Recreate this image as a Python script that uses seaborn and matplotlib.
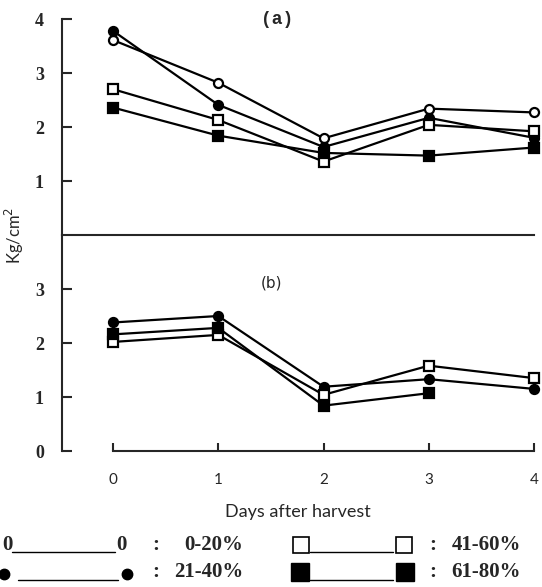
import numpy as np
import pandas as pd
import matplotlib
matplotlib.use("Agg")
import matplotlib.pyplot as plt
import seaborn as sns

sns.set_style("ticks")
plt.rcParams['font.family'] = ['DejaVu Sans']

days = [0, 1, 2, 3, 4]
groups = ["0-20%", "21-40%", "41-60%", "61-80%"]

# Panel (a)
a_0_20 = [3.61, 2.82, 1.79, 2.34, 2.27]
a_21_40 = [3.78, 2.41, 1.63, 2.17, 1.80]
a_41_60 = [2.70, 2.13, 1.36, 2.04, 1.92]
a_61_80 = [2.36, 1.84, 1.52, 1.47, 1.62]

# Panel (b)
b_21_40 = [2.38, 2.50, 1.19, 1.33, 1.15]
b_41_60 = [2.02, 2.15, 1.04, 1.58, 1.35]
b_61_80 = [2.16, 2.28, 0.84, 1.07, np.nan]

yticks_a = [1, 2, 3, 4]
yticks_b = [0, 1, 2, 3]
xtick_labels = ["0", "1", "2", "3", "4"]

rows = []
for panel, series in [("a", {"0-20%": a_0_20, "21-40%": a_21_40, "41-60%": a_41_60, "61-80%": a_61_80}),
                      ("b", {"21-40%": b_21_40, "41-60%": b_41_60, "61-80%": b_61_80})]:
    for g, vals in series.items():
        for d, v in zip(days, vals):
            if not np.isnan(v):
                rows.append({"panel": panel, "group": g, "day": d, "value": v})
df = pd.DataFrame(rows)

styles = {
    "0-20%": dict(marker="o", markerfacecolor="white", markersize=6.5),
    "21-40%": dict(marker="o", markerfacecolor="black", markersize=6.5),
    "41-60%": dict(marker="s", markerfacecolor="white", markersize=6.5),
    "61-80%": dict(marker="s", markerfacecolor="black", markersize=6.5),
}

W, H = 542, 587
fig = plt.figure(figsize=(W / 100, H / 100), dpi=100)
left = 62 / W
width = (534 - 62) / W
ax_a = fig.add_axes([left, 1 - 235 / H, width, 216 / H])
ax_b = fig.add_axes([left, 1 - 451 / H, width, 216 / H])

for ax, panel in [(ax_a, "a"), (ax_b, "b")]:
    sub = df[df.panel == panel]
    for g in groups:
        d = sub[sub.group == g]
        if d.empty:
            continue
        sns.lineplot(data=d, x="day", y="value", ax=ax, color="black", linewidth=1.6,
                     markeredgecolor="black", markeredgewidth=1.6, clip_on=False,
                     legend=False, **styles[g])
    ax.set_xlim(-0.485, 4.0)
    ax.set_ylim(0, 4)
    ax.set_xlabel("")
    ax.set_ylabel("")
    ax.patch.set_alpha(0)
    for s in ["top", "right"]:
        ax.spines[s].set_visible(False)
    for s in ["left", "bottom"]:
        ax.spines[s].set_linewidth(1.5)
    ax.tick_params(axis="y", direction="in", length=7, width=1.5, pad=13)

ax_a.set_yticks(yticks_a)
ax_a.set_yticklabels([str(t) for t in yticks_a], fontfamily="Liberation Serif",
                     fontweight="bold", fontsize=13)
ax_a.set_xticks([])
ax_a.spines["left"].set_bounds(0, 4)

ax_b.set_yticks(yticks_b)
ax_b.set_yticklabels([str(t) for t in yticks_b], fontfamily="Liberation Serif",
                     fontweight="bold", fontsize=13)
ax_b.set_xticks(days)
ax_b.set_xticklabels(xtick_labels, fontsize=11, fontfamily="Lato")
ax_b.tick_params(axis="x", direction="in", length=6, width=1.5, pad=16)
ax_b.spines["bottom"].set_bounds(0, 4)

ax_a.text(1.56, 4.0, "(a)", fontfamily="Liberation Mono", fontweight="bold",
          fontsize=13, ha="center", va="center")
ax_b.text(1.51, 3.11, "(b)", fontfamily="DejaVu Sans", fontsize=11,
          ha="center", va="center")

ax_b.set_xlabel("Days after harvest", fontfamily="Lato", fontsize=13, labelpad=12)
fig.text(14 / W, 1 - 235 / H, "Kg/cm$^2$", rotation=90, ha="center", va="center",
         fontfamily="Lato", fontsize=12)

# Custom legend drawn in pixel space
lg = fig.add_axes([0, 0, 1, 1])
lg.set_xlim(0, W)
lg.set_ylim(H, 0)
lg.axis("off")
lg.patch.set_alpha(0)
tkw = dict(fontfamily="Liberation Serif", fontweight="bold", fontsize=15, va="center")
r1, r2 = 545, 572
b1, b2 = 552, 580
# row 1 left: 0____0 : 0-20%
lg.text(7, r1, "0", ha="center", **tkw)
lg.plot([12, 115], [b1, b1], color="black", lw=1.0)
lg.text(121, r1, "0", ha="center", **tkw)
lg.text(156, r1, ":", ha="center", **tkw)
lg.text(243, r1, "0-20%", ha="right", **tkw)
# row 2 left: filled circles
lg.plot([4], [b2 - 6], marker="o", color="black", markersize=7.5, clip_on=False)
lg.plot([18, 118], [b2, b2], color="black", lw=1.0)
lg.plot([127], [b2 - 6], marker="o", color="black", markersize=7.5)
lg.text(156, r2, ":", ha="center", **tkw)
lg.text(243, r2, "21-40%", ha="right", **tkw)
# row 1 right: open squares
lg.plot([301], [r1], marker="s", markerfacecolor="white", markeredgecolor="black",
        markersize=12, markeredgewidth=1.2)
lg.plot([310, 393], [b1, b1], color="black", lw=1.0)
lg.plot([404], [r1], marker="s", markerfacecolor="white", markeredgecolor="black",
        markersize=12, markeredgewidth=1.2)
lg.text(433, r1, ":", ha="center", **tkw)
lg.text(521, r1, "41-60%", ha="right", **tkw)
# row 2 right: filled squares
lg.plot([300], [r2], marker="s", color="black", markersize=13)
lg.plot([310, 393], [b2, b2], color="black", lw=1.0)
lg.plot([405], [r2], marker="s", color="black", markersize=13)
lg.text(433, r2, ":", ha="center", **tkw)
lg.text(521, r2, "61-80%", ha="right", **tkw)

fig.savefig("out.png", dpi=100)
